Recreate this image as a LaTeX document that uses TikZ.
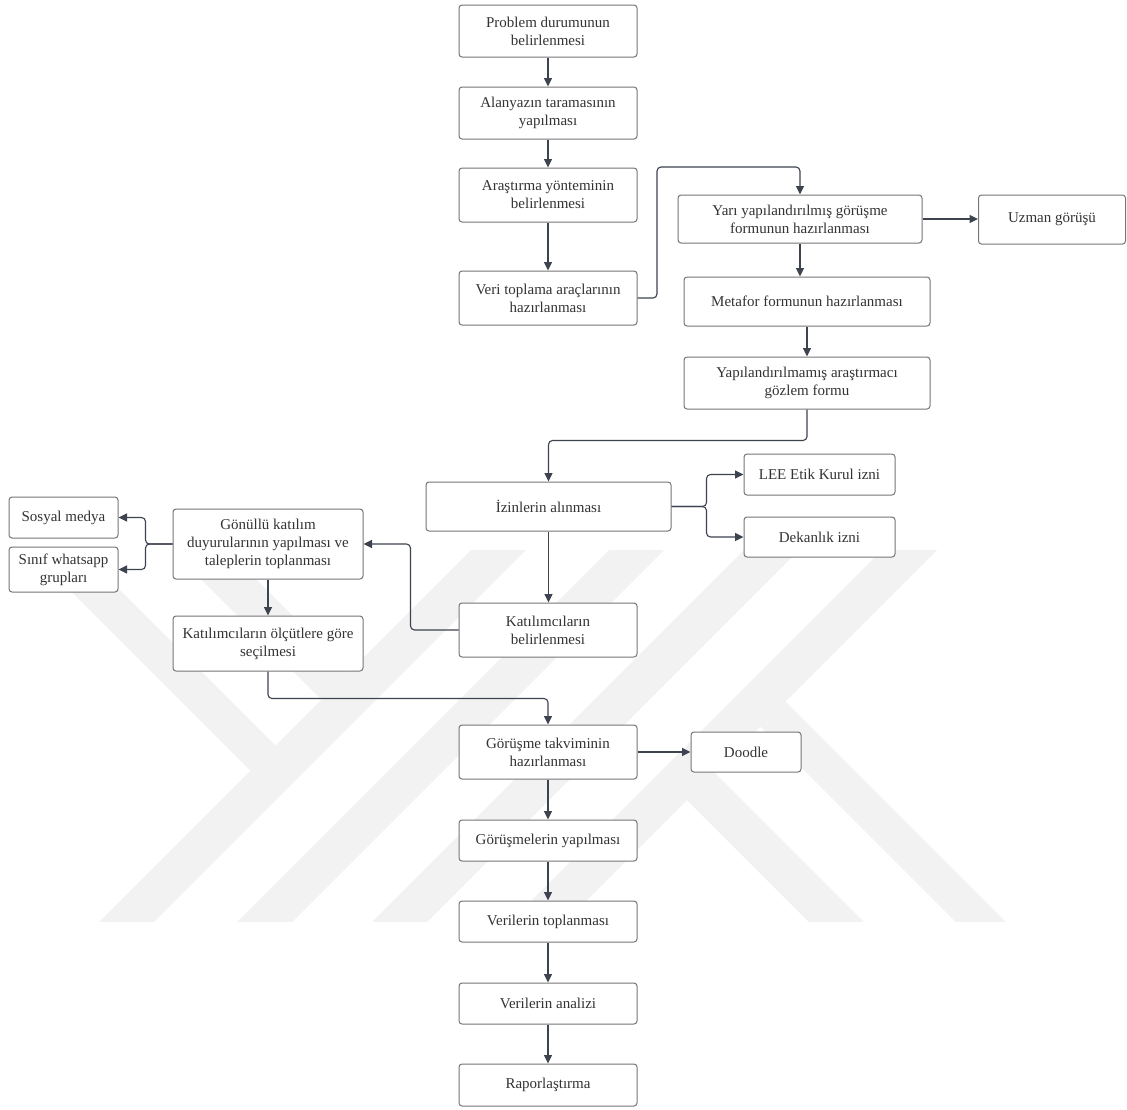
\documentclass[tikz,border=0pt]{standalone}
\usepackage{fontspec}
\setmainfont{Liberation Serif}
\usetikzlibrary{arrows.meta}

\definecolor{boxline}{HTML}{767676}
\definecolor{linkline}{HTML}{3E4350}
\definecolor{txt}{HTML}{333333}
\definecolor{mark}{RGB}{242,242,242}

\tikzset{
  box/.style={draw=boxline, line width=1pt, fill=white, rounded corners=3pt,
              align=center, inner sep=0pt, text=txt,
              font=\fontsize{15pt}{18pt}\selectfont},
  link/.style={draw=linkline, line width=1.1pt, rounded corners=4pt,
               -{Triangle[length=8.5pt,width=8pt]}},
  band/.style={fill=mark, draw=none}
}

\begin{document}
\begin{tikzpicture}[x=1pt, y=-1pt]
\useasboundingbox (0,0) rectangle (1127,1109);
\fill[white] (0,0) rectangle (1127,1109);

% background emblem: parallel diagonal stripes
\begin{scope}
  \clip (0,550) rectangle (1127,921);
  \begin{scope}[shift={(518,736)}, x={(0.5pt,-0.5pt)}, y={(-0.5pt,-0.5pt)}]
    \foreach \a/\b in {-233/-178, -95/-40, 40/95, 178/233}
      \fill[band] (\a,-800) -- (\b,-800) -- (\b,800) -- (\a,800) -- cycle;
    \foreach \c/\d in {252/302, 105/160}
      \fill[band] (-900,\c) -- (-200,\c) -- (-200,\d) -- (-900,\d) -- cycle;
    \foreach \c/\d in {-302/-252, -160/-105}
      \fill[band] (200,\c) -- (900,\c) -- (900,\d) -- (200,\d) -- cycle;
  \end{scope}
\end{scope}

% main column
\node[box, minimum width=178pt, minimum height=52pt] (n1) at (548,31) {Problem durumunun\\belirlenmesi};
\node[box, minimum width=178pt, minimum height=52pt] (n2) at (548,113) {Alanyazın taramasının\\yapılması};
\node[box, minimum width=178pt, minimum height=54pt] (n3) at (548,195) {Araştırma yönteminin\\belirlenmesi};
\node[box, minimum width=178pt, minimum height=54pt] (n4) at (548,298) {Veri toplama araçlarının\\hazırlanması};

% data collection tools
\node[box, minimum width=244pt, minimum height=48pt] (n5) at (800,219) {Yarı yapılandırılmış görüşme\\formunun hazırlanması};
\node[box, minimum width=147pt, minimum height=49pt] (n6) at (1052,219.5) {Uzman görüşü};
\node[box, minimum width=246pt, minimum height=49pt] (n7) at (807,301.5) {Metafor formunun hazırlanması};
\node[box, minimum width=246pt, minimum height=52pt] (n8) at (807,383) {Yapılandırılmamış araştırmacı\\gözlem formu};

% permissions
\node[box, minimum width=245pt, minimum height=49pt] (n9) at (548.5,506.5) {İzinlerin alınması};
\node[box, minimum width=151pt, minimum height=41pt] (n10) at (819.5,474.5) {LEE Etik Kurul izni};
\node[box, minimum width=151pt, minimum height=40pt] (n11) at (819.5,537) {Dekanlık izni};

% participants
\node[box, minimum width=178pt, minimum height=54pt] (n12) at (548,630) {Katılımcıların\\belirlenmesi};
\node[box, minimum width=190pt, minimum height=70pt] (n13) at (268,544) {Gönüllü katılım\\duyurularının yapılması ve\\taleplerin toplanması};
\node[box, minimum width=109pt, minimum height=41pt] (n14) at (63.5,517.5) {Sosyal medya};
\node[box, minimum width=109pt, minimum height=45pt] (n15) at (63.5,569.5) {Sınıf whatsapp\\grupları};
\node[box, minimum width=190pt, minimum height=55pt] (n16) at (268,643.5) {Katılımcıların ölçütlere göre\\seçilmesi};

% interviews and analysis
\node[box, minimum width=178pt, minimum height=54pt] (n17) at (548,752) {Görüşme takviminin\\hazırlanması};
\node[box, minimum width=110pt, minimum height=40pt] (n18) at (746,752) {Doodle};
\node[box, minimum width=178pt, minimum height=41pt] (n19) at (548,840.5) {Görüşmelerin yapılması};
\node[box, minimum width=178pt, minimum height=41pt] (n20) at (548,921.5) {Verilerin toplanması};
\node[box, minimum width=178pt, minimum height=41pt] (n21) at (548,1003.5) {Verilerin analizi};
\node[box, minimum width=178pt, minimum height=42pt] (n22) at (548,1085) {Raporlaştırma};

% bend points
\coordinate (k45) at (657,167);

% connectors
\draw[link] (n1.south) -- (n2.north);
\draw[link] (n2.south) -- (n3.north);
\draw[link] (n3.south) -- (n4.north);
\draw[link] (n4.east) -| (k45) -| (n5.north);
\draw[link] (n5.east) -- (n5.east -| n6.west);
\draw[link] (n5.south) -- (n5.south |- n7.north);
\draw[link] (n7.south) -- (n8.north);
\draw[link] (n8.south) -- ++(0,31) -| (n9.north);
\draw[link] (n9.east) -- ++(35,0) |- (n10.west);
\draw[link] (n9.east) -- ++(35,0) |- (n11.west);
\draw[link] (n9.south) -- (n9.south |- n12.north);
\draw[link] (n12.west) -- ++(-48,0) |- (n13.east);
\draw[link] (n13.west) -- ++(-27,0) |- (n14.east);
\draw[link] (n13.west) -- ++(-27,0) |- (n15.east);
\draw[link] (n13.south) -- (n16.north);
\draw[link] (n16.south) -- ++(0,27) -| (n17.north);
\draw[link] (n17.east) -- (n18.west);
\draw[link] (n17.south) -- (n19.north);
\draw[link] (n19.south) -- (n20.north);
\draw[link] (n20.south) -- (n21.north);
\draw[link] (n21.south) -- (n22.north);
\end{tikzpicture}
\end{document}
